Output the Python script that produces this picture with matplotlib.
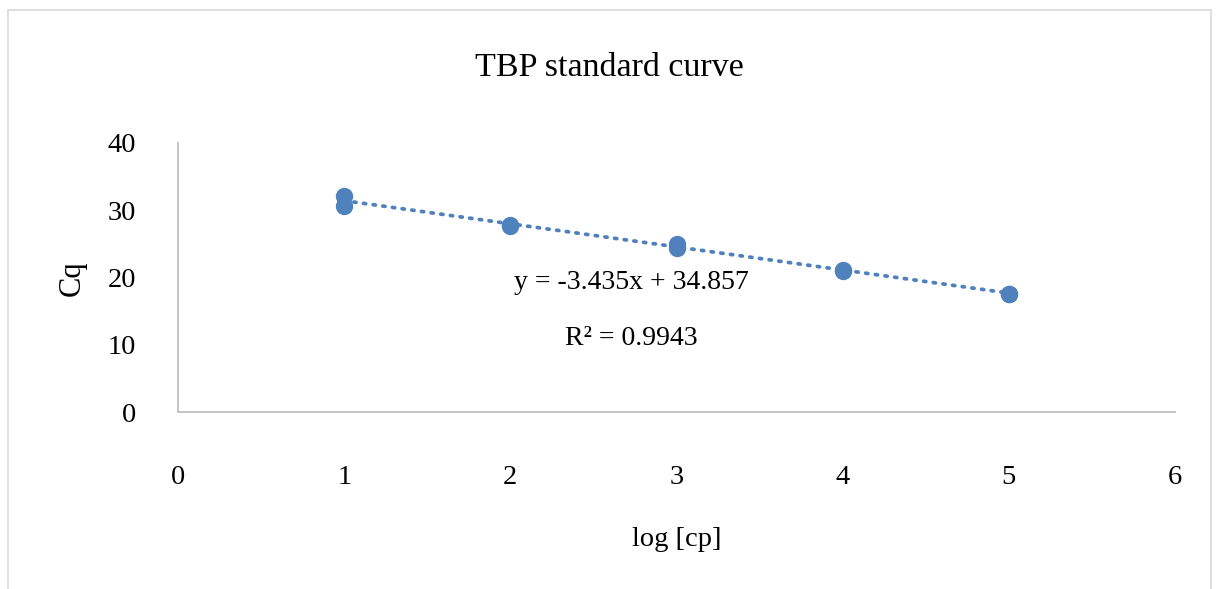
import numpy as np
import matplotlib.pyplot as plt
from matplotlib.patches import Rectangle

# log copy number vs Cq (duplicates)
log_cp = [1, 1, 2, 2, 3, 3, 4, 4, 5, 5]
cq = [32.1, 30.7, 27.8, 27.7, 25.0, 24.4, 21.1, 21.0, 17.6, 17.5]

# Excel linear trendline
slope = -3.435
intercept = 34.857
r2 = 0.9943

x_ticks = [0, 1, 2, 3, 4, 5, 6]
y_ticks = [0, 10, 20, 30, 40]

blue = '#4F81BD'
plt.rcParams['font.family'] = ['Liberation Serif', 'DejaVu Serif']

fig = plt.figure(figsize=(12.16, 5.89), dpi=100)
ax = fig.add_axes([178 / 1216, 1 - 412 / 589, (1175 - 178) / 1216, (412 - 143) / 589])

# outer chart border
fig.patches.append(Rectangle((8 / 1216, -0.05), (1211 - 8) / 1216, 1.05 - 10 / 589,
                             transform=fig.transFigure, fill=False,
                             edgecolor='#D9D9D9', linewidth=1.2))

tx = np.array([min(log_cp), max(log_cp)])
ax.plot(tx, slope * tx + intercept, color=blue, linestyle=(0, (0.6, 2.0)),
        linewidth=2.7, dash_capstyle='round', zorder=2)
ax.plot(log_cp, cq, 'o', color=blue, markersize=11.5, zorder=3)

ax.set_xlim(0, 6)
ax.set_ylim(0, 40)
ax.set_xticks(x_ticks)
ax.set_yticks(y_ticks)
ax.tick_params(length=0, labelsize=20.5)
ax.tick_params(axis='x', pad=38)
ax.tick_params(axis='y', pad=30)

for s in ['top', 'right']:
    ax.spines[s].set_visible(False)
for s in ['left', 'bottom']:
    ax.spines[s].set_color('#BFBFBF')
    ax.spines[s].set_linewidth(1.3)

fig.text(609 / 1216, 1 - 68 / 589, 'TBP standard curve', ha='center', va='center', fontsize=24.5)
fig.text(677 / 1216, 1 - 540 / 589, 'log [cp]', ha='center', va='center', fontsize=20.5)
fig.text(72 / 1216, 1 - 278 / 589, 'Cq', ha='center', va='center', fontsize=22, rotation=90)

ax.text(2.73, 19.2, 'y = -3.435x + 34.857', ha='center', va='center', fontsize=20)
ax.text(2.73, 11.0, 'R² = 0.9943', ha='center', va='center', fontsize=20)

fig.savefig('out.png', dpi=100)
